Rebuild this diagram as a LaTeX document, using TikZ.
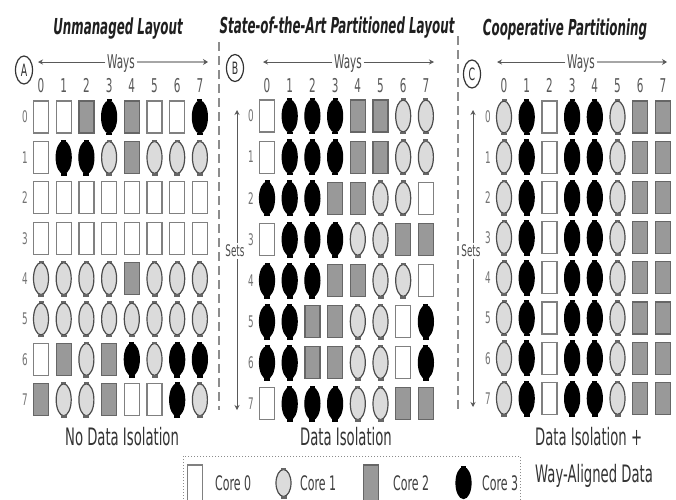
\documentclass[tikz,border=0pt]{standalone}
\usepackage{fontspec}
\setmainfont{DejaVu Sans}[FakeStretch=0.55]
\newfontfamily\titlefont{DejaVu Sans}[FakeStretch=0.54]
\usetikzlibrary{shapes.geometric,arrows.meta}

\tikzset{
  cell/.style={minimum width=15pt, minimum height=32pt, inner sep=0pt, line width=1.2pt},
  S/.style={cell, rectangle, draw=black!50, fill=white},
  G/.style={cell, rectangle, draw=black!60, fill=black!40},
  O/.style={cell, ellipse, draw=black!70, fill=black!14},
  B/.style={cell, ellipse, draw=black, fill=black},
  nubS/.style={}, nubG/.style={},
  nubO/.style={fill=black!60}, nubB/.style={fill=black},
  ttl/.style={font=\titlefont\bfseries\itshape\fontsize{22}{26}\selectfont, text=black!88, anchor=base, inner sep=0pt},
  captxt/.style={font=\fontsize{24}{28}\selectfont, text=black!80, anchor=base, inner sep=0pt},
  digit/.style={font=\fontsize{19}{22}\selectfont, text=black!65, anchor=base, inner sep=0pt},
  rowlbl/.style={font=\fontsize{16}{18}\selectfont, text=black!55, inner sep=0pt},
  waystxt/.style={font=\fontsize{19}{22}\selectfont, text=black!70, anchor=base, inner sep=1.5pt},
  setslbl/.style={font=\fontsize{16}{18}\selectfont, text=black!70, inner sep=1.5pt},
  circlbl/.style={ellipse, draw=black!80, line width=1.2pt, inner sep=0pt, minimum width=17pt, minimum height=28pt, font=\fontsize{17}{20}\selectfont, text=black!80},
  legtxt/.style={font=\fontsize{20}{24}\selectfont, text=black!75, anchor=base west, inner sep=0pt},
  darr/.style={draw=black!65, line width=1pt, -{Stealth[length=5pt,width=5pt]}},
  larr/.style={draw=black!35, line width=2.5pt, -{Stealth[length=5pt,width=6pt,color=black!65]}},
  sepline/.style={draw=black!45, line width=1.2pt, dash pattern=on 9pt off 5pt},
  legbox/.style={draw=black!45, line width=1pt, dotted}
}

\newcommand\cachepanel[6]{%
  \foreach \cj in {0,...,7} {
    \node[digit] (#1-col\cj) at ({#2+\cj*22.7},92) {\cj};
    \node[rowlbl] (#1-row\cj) at (#5,{#3+\cj*#4}) {\cj};
  }
  \foreach \rowlist [count=\ri from 0] in {#6} {
    \foreach \t [count=\ci from 0] in \rowlist {
      \node[\t] (#1-\ri-\ci) at ({#2+\ci*22.7},{#3+\ri*#4}) {};
      \path[nub\t] ([xshift=-2.5pt,yshift=-1pt]#1-\ri-\ci.north) rectangle ([xshift=2.5pt,yshift=1.2pt]#1-\ri-\ci.north);
      \path[nub\t] ([xshift=-3pt,yshift=1pt]#1-\ri-\ci.south) rectangle ([xshift=3pt,yshift=-1.6pt]#1-\ri-\ci.south);
    }
  }
}

\begin{document}
\begin{tikzpicture}[x=1pt,y=-1pt]
\useasboundingbox (0,0) rectangle (676,499);
\fill[white] (0,0) rectangle (676,499);

% titles
\node[ttl] (tA) at (118,34) {Unmanaged Layout};
\node[ttl] (tB) at (337,33) {State-of-the-Art Partitioned Layout};
\node[ttl] (tC) at (565,35) {Cooperative Partitioning};

% separators
\coordinate (s1t) at (219,42); \coordinate (s1b) at (219,410);
\coordinate (s2t) at (458,36); \coordinate (s2b) at (458,410);
\draw[sepline] (s1t) -- (s1b);
\draw[sepline] (s2t) -- (s2b);

% circled labels
\node[circlbl] (cA) at (24,70) {A};
\node[circlbl, minimum height=27pt] (cB) at (235,68) {B};
\node[circlbl] (cC) at (472,74) {C};

% ways arrows
\node[waystxt] (wA) at (121,68) {Ways};
\coordinate (wAl) at (38,62); \coordinate (wAr) at (208,62);
\draw[darr] (wA.west |- wAl) -- (wAl);
\draw[larr] (wA.east |- wAr) -- (wAr);

\node[waystxt] (wB) at (348,68) {Ways};
\coordinate (wBl) at (263,62); \coordinate (wBr) at (434,62);
\draw[darr] (wB.west |- wBl) -- (wBl);
\draw[darr] (wB.east |- wBr) -- (wBr);

\node[waystxt] (wC) at (581,68) {Ways};
\coordinate (wCl) at (497,62); \coordinate (wCr) at (667,62);
\draw[darr] (wC.west |- wCl) -- (wCl);
\draw[larr] (wC.east |- wCr) -- (wCr);

% sets arrows
\node[setslbl] (setB) at (235,251) {Sets};
\coordinate (setBt) at (237,110); \coordinate (setBb) at (237,410);
\draw[darr] (setB.north -| setBt) -- (setBt);
\draw[darr] (setB.south -| setBb) -- (setBb);

\node[setslbl] (setC) at (471,251) {Sets};
\coordinate (setCt) at (473,110); \coordinate (setCb) at (473,407);
\draw[darr] (setC.north -| setCt) -- (setCt);
\draw[darr] (setC.south -| setCb) -- (setCb);

% panels
\cachepanel{A}{41}{117}{40.4}{25}{
  {S,S,G,B,G,S,S,B},
  {S,B,B,O,G,O,O,O},
  {S,S,S,S,S,S,S,S},
  {S,S,S,S,S,S,S,S},
  {O,O,O,O,G,O,O,O},
  {O,O,O,O,O,O,O,O},
  {S,G,O,G,B,O,B,B},
  {G,O,O,G,S,S,B,O}}
\cachepanel{B}{267}{116}{41.1}{251}{
  {S,B,B,B,G,G,O,O},
  {S,B,B,B,G,G,O,O},
  {B,B,B,G,G,O,O,S},
  {S,B,B,B,O,O,G,G},
  {B,B,B,G,G,O,O,S},
  {B,B,G,G,O,O,S,B},
  {B,B,G,G,O,O,S,B},
  {S,B,B,B,O,O,G,G}}
\cachepanel{C}{504}{117}{40.2}{488}{
  {O,B,S,B,B,O,G,G},
  {O,B,S,B,B,O,G,G},
  {O,B,S,B,B,O,G,G},
  {O,B,S,B,B,O,G,G},
  {O,B,S,B,B,O,G,G},
  {O,B,S,B,B,O,G,G},
  {O,B,S,B,B,O,G,G},
  {O,B,S,B,B,O,G,G}}

% captions
\node[captxt] (capA) at (122,445) {No Data Isolation};
\node[captxt] (capB) at (346,445) {Data Isolation};
\node[captxt, anchor=base west] (capC1) at (535,445) {Data Isolation +};
\node[captxt, anchor=base west] (capC2) at (535,482) {Way-Aligned Data};

% legend
\draw[legbox] (183,456) rectangle (520,512);
\node[S, minimum height=36pt] (l0) at (195,483) {};
\node[legtxt] (l0t) at (215,490) {Core 0};
\node[O, minimum height=27pt] (l1) at (283.5,483) {};
\path[nubO] ([xshift=-2.5pt,yshift=-1pt]l1.north) rectangle ([xshift=2.5pt,yshift=1.2pt]l1.north);
\path[nubO] ([xshift=-3pt,yshift=1pt]l1.south) rectangle ([xshift=3pt,yshift=-1.6pt]l1.south);
\node[legtxt] (l1t) at (300,490) {Core 1};
\node[G, minimum height=36pt] (l2) at (371,483) {};
\node[legtxt] (l2t) at (393,490) {Core 2};
\node[B, minimum height=31pt] (l3) at (463.5,483) {};
\path[nubB] ([xshift=-2.5pt,yshift=-1pt]l3.north) rectangle ([xshift=2.5pt,yshift=1.2pt]l3.north);
\node[legtxt] (l3t) at (482,490) {Core 3};
\end{tikzpicture}
\end{document}
